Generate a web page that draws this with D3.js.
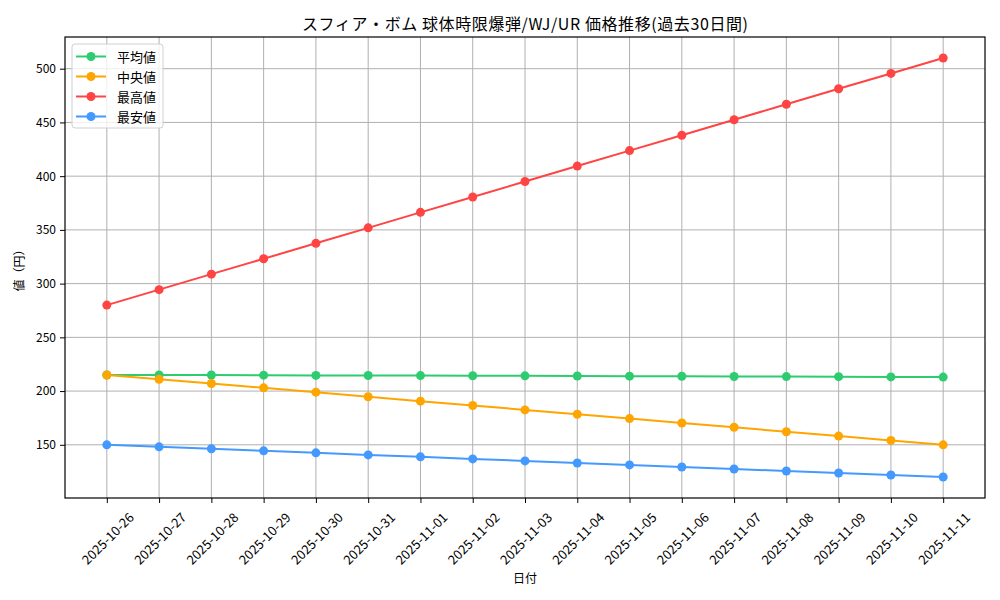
<!DOCTYPE html>
<html>
<head>
<meta charset="utf-8">
<script src="https://cdn.jsdelivr.net/npm/d3@7"></script>
<style>
  body { margin: 0; background: #fff; }
  text { font-family: "Noto Sans CJK JP", "DejaVu Sans", sans-serif; fill: #000; }
</style>
</head>
<body>
<div id="chart"></div>
<script>
const width = 1000;
const height = 600;

// data
const dates = ["2025-10-26", "2025-10-27", "2025-10-28", "2025-10-29", "2025-10-30", "2025-10-31",
    "2025-11-01", "2025-11-02", "2025-11-03", "2025-11-04", "2025-11-05", "2025-11-06",
    "2025-11-07", "2025-11-08", "2025-11-09", "2025-11-10", "2025-11-11"];
const avgValues = [215, 215, 215, 214.8, 214.6, 214.5, 214.4, 214.3, 214.2, 214.0, 213.9, 213.8, 213.6, 213.5, 213.4, 213.2, 213];
const medianValues = [215, 211, 207, 203, 199, 194.7, 190.6, 186.6, 182.5, 178.4, 174.4, 170.3, 166.3, 162.2, 158.1, 154.1, 150];
const maxValues = [280, 294.4, 308.8, 323.1, 337.5, 351.9, 366.3, 380.6, 395, 409.4, 423.8, 438.1, 452.5, 466.9, 481.3, 495.6, 510];
const minValues = [150, 148.1, 146.3, 144.4, 142.5, 140.6, 138.8, 136.9, 135, 133.1, 131.3, 129.4, 127.5, 125.6, 123.8, 121.9, 120];
const yTicks = [150, 200, 250, 300, 350, 400, 450, 500];

const series = [
    { name: "平均値", values: avgValues, color: "#2ecc71" },
    { name: "中央値", values: medianValues, color: "#ffa500" },
    { name: "最高値", values: maxValues, color: "#ff4444" },
    { name: "最安値", values: minValues, color: "#4499ff" }
];

const margin = { top: 37, right: 15, bottom: 102, left: 65 };
const innerW = width - margin.left - margin.right;
const innerH = height - margin.top - margin.bottom;

const svg = d3.select("#chart")
    .append("svg")
    .attr("width", width)
    .attr("height", height);

const g = svg.append("g")
    .attr("transform", `translate(${margin.left},${margin.top})`);

// matplotlib-style 5% padding on both axes
const n = dates.length;
const xPad = (n - 1) * 0.05;
const x = d3.scaleLinear()
    .domain([-xPad, n - 1 + xPad])
    .range([0, innerW]);

const allVals = series.flatMap(s => s.values);
const yMin = d3.min(allVals), yMax = d3.max(allVals);
const yPad = (yMax - yMin) * 0.05;
const y = d3.scaleLinear()
    .domain([yMin - yPad, yMax + yPad])
    .range([innerH, 0]);

// grid
g.append("g")
    .selectAll("line")
    .data(d3.range(n))
    .enter().append("line")
    .attr("x1", d => x(d)).attr("x2", d => x(d))
    .attr("y1", 0).attr("y2", innerH)
    .style("stroke", "#b0b0b0")
    .style("stroke-width", "1px");

g.append("g")
    .selectAll("line")
    .data(yTicks)
    .enter().append("line")
    .attr("x1", 0).attr("x2", innerW)
    .attr("y1", d => y(d)).attr("y2", d => y(d))
    .style("stroke", "#b0b0b0")
    .style("stroke-width", "1px");

// axes
const xAxis = g.append("g")
    .attr("transform", `translate(0,${innerH})`)
    .call(d3.axisBottom(x).tickValues(d3.range(n)).tickFormat(i => dates[i]).tickSize(5).tickPadding(0));
xAxis.select(".domain").remove();
xAxis.selectAll(".tick line").style("stroke", "#000");
xAxis.selectAll("text")
    .style("font-size", "13px")
    .attr("text-anchor", "middle")
    .attr("dominant-baseline", "central")
    .attr("dy", null)
    .attr("y", 0)
    .attr("transform", "translate(0,40) rotate(-45)");

const yAxis = g.append("g")
    .call(d3.axisLeft(y).tickValues(yTicks).tickSize(5).tickPadding(4));
yAxis.select(".domain").remove();
yAxis.selectAll(".tick line").style("stroke", "#000");
yAxis.selectAll("text").style("font-size", "12px");

// frame
g.append("rect")
    .attr("width", innerW)
    .attr("height", innerH)
    .style("fill", "none")
    .style("stroke", "#000")
    .style("stroke-width", "1.2px");

// lines
const line = d3.line()
    .x((d, i) => x(i))
    .y(d => y(d));

series.forEach(s => {
    g.append("path")
        .datum(s.values)
        .attr("d", line)
        .style("fill", "none")
        .style("stroke", s.color)
        .style("stroke-width", "2px");

    g.selectAll(null)
        .data(s.values)
        .enter().append("circle")
        .attr("cx", (d, i) => x(i))
        .attr("cy", d => y(d))
        .attr("r", 4.5)
        .style("fill", s.color);
});

// titles
svg.append("text")
    .attr("x", margin.left + innerW / 2)
    .attr("y", 30)
    .attr("text-anchor", "middle")
    .attr("textLength", 446)
    .attr("lengthAdjust", "spacing")
    .style("font-size", "16px")
    .text("スフィア・ボム 球体時限爆弾/WJ/UR 価格推移(過去30日間)");

svg.append("text")
    .attr("x", margin.left + innerW / 2)
    .attr("y", 583)
    .attr("text-anchor", "middle")
    .style("font-size", "12px")
    .text("日付");

svg.append("text")
    .attr("transform", `translate(24,${margin.top + innerH / 2}) rotate(-90)`)
    .attr("text-anchor", "middle")
    .style("font-size", "12px")
    .text("値（円）");

// legend
const legend = svg.append("g")
    .attr("transform", "translate(72,44)");

legend.append("rect")
    .attr("width", 91)
    .attr("height", 84)
    .attr("rx", 3)
    .style("fill", "#fff")
    .style("fill-opacity", 0.8)
    .style("stroke", "#d0d0d0");

const item = legend.selectAll(".item")
    .data(series)
    .enter().append("g")
    .attr("transform", (d, i) => `translate(0,${12.5 + i * 20})`);

item.append("line")
    .attr("x1", 4).attr("x2", 34)
    .style("stroke", d => d.color)
    .style("stroke-width", "2px");

item.append("circle")
    .attr("cx", 19)
    .attr("r", 4.5)
    .style("fill", d => d.color);

item.append("text")
    .attr("x", 45)
    .attr("dominant-baseline", "central")
    .style("font-size", "13px")
    .text(d => d.name);
</script>
</body>
</html>
